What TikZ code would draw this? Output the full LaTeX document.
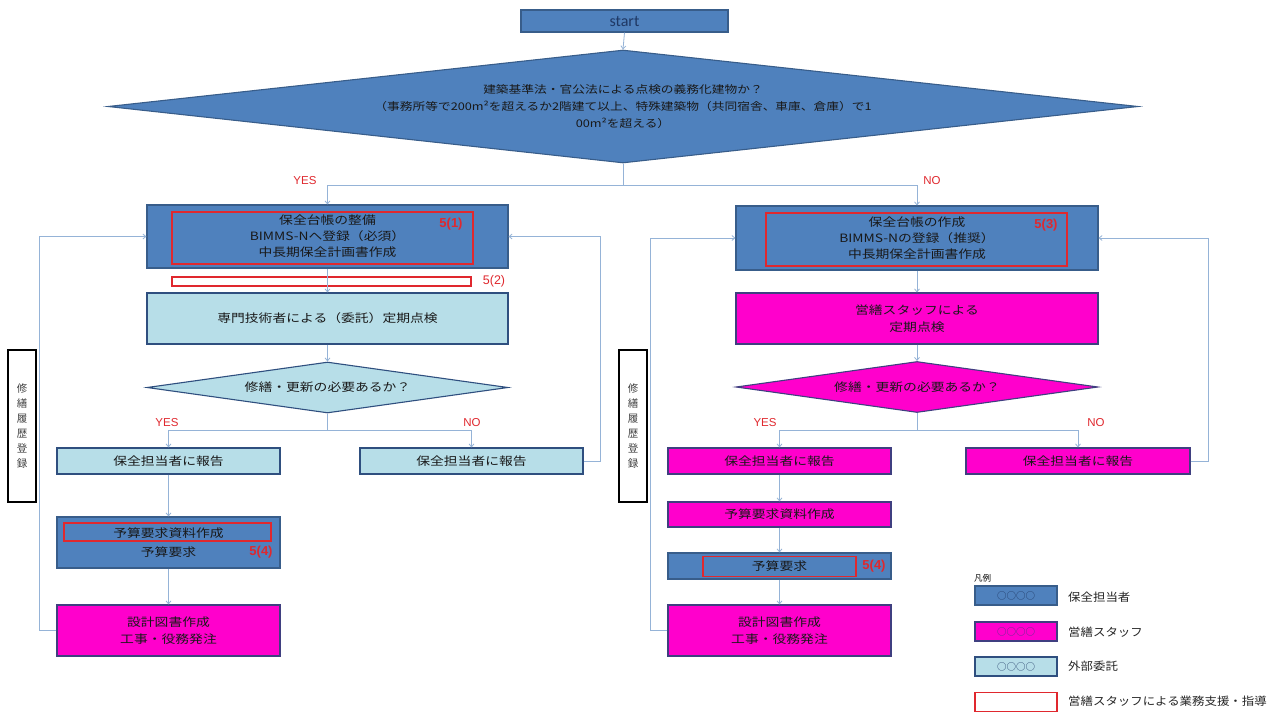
\documentclass[tikz,border=0pt]{standalone}
\usepackage{fontspec}
\usetikzlibrary{shapes.geometric,arrows.meta}
\newfontfamily\jp[FakeStretch=1.2]{Noto Sans CJK JP}
\newfontfamily\jpl[FakeStretch=1.1]{Noto Sans CJK JP}
\newfontfamily\jpn{Noto Sans CJK JP}
\newfontfamily\latf{Liberation Sans}
\newfontfamily\startf{Carlito}
\definecolor{bfill}{HTML}{4F81BD}
\definecolor{bdraw}{HTML}{385D8A}
\definecolor{mfill}{HTML}{FF00CC}
\definecolor{mdraw}{HTML}{3F3F80}
\definecolor{lfill}{HTML}{B7DEE8}
\definecolor{ldraw}{HTML}{2F4F7F}
\definecolor{cc}{HTML}{95B3D7}
\definecolor{redc}{HTML}{E0282E}
\definecolor{navy}{HTML}{1F3864}
\tikzset{
  box/.style={draw, line width=1.1pt, inner sep=0pt, align=center, text=black!90,
    font=\jp\fontsize{11.5}{16}\selectfont},
  bbox/.style={box, fill=bfill, draw=bdraw},
  mbox/.style={box, fill=mfill, draw=mdraw},
  lbox/.style={box, fill=lfill, draw=ldraw},
  redr/.style={draw=redc, line width=1.3pt, inner sep=0pt},
  conn/.style={draw=cc, line width=0.8pt},
  arr/.style={conn, -{Straight Barb[length=3pt,width=5pt]}},
  lab/.style={text=redc, inner sep=0pt, font=\latf\fontsize{11.5}{12}\selectfont},
  num/.style={text=redc, inner sep=0pt, font=\latf\bfseries\fontsize{13}{14}\selectfont},
  vbox/.style={draw=black, line width=1.5pt, inner sep=0pt, align=center,
    minimum width=28pt, minimum height=152pt, font=\jpn\fontsize{10.5}{15}\selectfont, text=black!75},
  legbox/.style={draw, line width=1.1pt, inner sep=0pt, minimum width=82pt, minimum height=19pt,
    font=\jpn\fontsize{9.5}{10}\selectfont},
  legtxt/.style={anchor=west, inner sep=0pt, font=\jpl\fontsize{11.3}{14}\selectfont, text=black!85}
}
\begin{document}
\begin{tikzpicture}[x=1pt,y=-1pt]
\useasboundingbox[fill=white] (0,0) rectangle (1274,713);

% start and top decision
\node[bbox, minimum width=207pt, minimum height=22pt, font=\startf\fontsize{16}{17}\selectfont, text=navy] (start) at (624.5,21) {start};
\node[bbox, diamond, aspect=9.1, minimum width=1030pt, minimum height=113pt,
  font=\jp\fontsize{10.6}{17}\selectfont] (d0) at (623,106.5)
  {建築基準法・官公法による点検の義務化建物か？\\（事務所等で200m²を超えるか2階建て以上、特殊建築物（共同宿舎、車庫、倉庫）で1\\00m²を超える）};
\coordinate (br0) at (623,185);
\node[lab] (yes0) at (305,181) {YES};
\node[lab] (no0) at (932,181) {NO};

% left column
\node[bbox, minimum width=361pt, minimum height=63pt] (L1) at (327.5,236.5)
  {保全台帳の整備\\BIMMS-Nへ登録（必須）\\中長期保全計画書作成};
\node[redr, minimum width=301pt, minimum height=52pt] (L1r) at (322.5,238) {};
\node[num] (n1) at (451,224) {5(1)};
\node[redr, minimum width=299pt, minimum height=9pt] (L2r) at (321.5,281.5) {};
\node[num, font=\latf\fontsize{12.5}{13}\selectfont] (n2) at (494,281) {5(2)};
\node[lbox, minimum width=361pt, minimum height=51pt] (L2) at (327.5,318.5)
  {専門技術者による（委託）定期点検};
\node[lbox, diamond, aspect=7.1, minimum width=361pt, minimum height=51pt] (Ld) at (327.5,387.5)
  {修繕・更新の必要あるか？};
\coordinate (brL) at (327.5,430);
\node[lab] (yesL) at (167,423) {YES};
\node[lab] (noL) at (472,423) {NO};
\node[lbox, minimum width=223pt, minimum height=26pt] (LY) at (168.5,461) {保全担当者に報告};
\node[lbox, minimum width=223pt, minimum height=26pt] (LN) at (471.5,461) {保全担当者に報告};
\node[bbox, minimum width=223pt, minimum height=51pt, font=\jp\fontsize{11.5}{19}\selectfont] (LB) at (168.5,542.5)
  {予算要求資料作成\\予算要求};
\node[redr, minimum width=207pt, minimum height=18pt] (LBr) at (167.5,532) {};
\node[num] (n4L) at (261,552) {5(4)};
\node[mbox, minimum width=223pt, minimum height=51pt, font=\jp\fontsize{11.5}{17}\selectfont] (LD) at (168.5,630.5)
  {設計図書作成\\工事・役務発注};
\node[vbox] (LV) at (22,426) {修\\繕\\履\\歴\\登\\録};

% right column
\node[bbox, minimum width=362pt, minimum height=64pt] (R1) at (917,238)
  {保全台帳の作成\\BIMMS-Nの登録（推奨）\\中長期保全計画書作成};
\node[redr, minimum width=301pt, minimum height=53pt] (R1r) at (916.5,239.5) {};
\node[num] (n3) at (1046,225) {5(3)};
\node[mbox, minimum width=362pt, minimum height=51pt, font=\jp\fontsize{11.5}{17}\selectfont] (R2) at (917,318.5)
  {営繕スタッフによる\\定期点検};
\node[mbox, diamond, aspect=7.1, minimum width=362pt, minimum height=51pt] (Rd) at (917,387)
  {修繕・更新の必要あるか？};
\coordinate (brR) at (917,430);
\node[lab] (yesR) at (765,423) {YES};
\node[lab] (noR) at (1096,423) {NO};
\node[mbox, minimum width=223pt, minimum height=26pt] (RY) at (779.5,461) {保全担当者に報告};
\node[mbox, minimum width=224pt, minimum height=26pt] (RN) at (1078,461) {保全担当者に報告};
\node[mbox, minimum width=223pt, minimum height=25pt] (RM) at (779.5,514.5) {予算要求資料作成};
\node[bbox, minimum width=223pt, minimum height=26pt] (RQ) at (779.5,566) {予算要求};
\node[redr, minimum width=153pt, minimum height=20pt] (RQr) at (779.5,566.5) {};
\node[num] (n4R) at (874,566) {5(4)};
\node[mbox, minimum width=223pt, minimum height=51pt, font=\jp\fontsize{11.5}{17}\selectfont] (RD) at (779.5,630.5)
  {設計図書作成\\工事・役務発注};
\node[vbox] (RV) at (633,426) {修\\繕\\履\\歴\\登\\録};

% connectors
\draw[arr] (start.south) -- (d0.north);
\draw[conn] (d0.south) -- (br0);
\draw[arr] (br0) -| (L1.north);
\draw[arr] (br0) -| (R1.north);

\draw[arr] (L1.south) -- (L2.north);
\draw[arr] (L2.south) -- (Ld.north);
\draw[conn] (Ld.south) -- (brL);
\draw[arr] (brL) -| (LY.north);
\draw[arr] (brL) -| (LN.north);
\draw[arr] (LY.south) -- (LB.north);
\draw[arr] (LB.south) -- (LD.north);
\draw[arr] (LD.west) -- ++(-17,0) |- (L1.west);
\draw[arr] (LN.east) -- ++(17,0) |- (L1.east);

\draw[arr] (R1.south) -- (R2.north);
\draw[arr] (R2.south) -- (Rd.north);
\draw[conn] (Rd.south) -- (brR);
\draw[arr] (brR) -| (RY.north);
\draw[arr] (brR) -| (RN.north);
\draw[arr] (RY.south) -- (RM.north);
\draw[arr] (RM.south) -- (RQ.north);
\draw[arr] (RQ.south) -- (RD.north);
\draw[arr] (RD.west) -- ++(-17,0) |- (R1.west);
\draw[arr] (RN.east) -- ++(18,0) |- (R1.east);

% legend
\node[anchor=west, inner sep=0pt, font=\jpn\fontsize{8.5}{9}\selectfont] (leg) at (974,578) {凡例};
\node[legbox, fill=bfill, draw=bdraw, text=navy] (lg1) at (1016,595.5) {○○○○};
\node[legbox, fill=mfill, draw=mdraw, text=mdraw] (lg2) at (1016,631.5) {○○○○};
\node[legbox, fill=lfill, draw=ldraw, text=navy] (lg3) at (1016,666.5) {○○○○};
\node[legbox, fill=white, draw=redc, line width=1.4pt] (lg4) at (1016,702) {};
\node[legtxt] (lt1) at (1068,597) {保全担当者};
\node[legtxt] (lt2) at (1068,632) {営繕スタッフ};
\node[legtxt] (lt3) at (1068,666) {外部委託};
\node[legtxt] (lt4) at (1068,701) {営繕スタッフによる業務支援・指導};
\end{tikzpicture}
\end{document}
